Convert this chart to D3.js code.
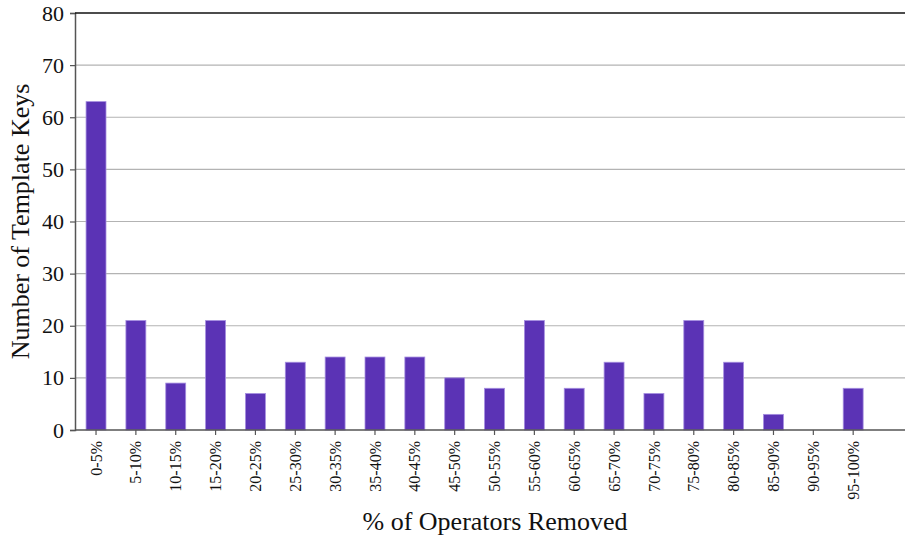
<!DOCTYPE html>
<html>
<head>
<meta charset="utf-8">
<script src="https://cdn.jsdelivr.net/npm/d3@7"></script>
<style>
  body { margin: 0; background: #fff; }
  svg text { font-family: "Liberation Serif", "DejaVu Serif", serif; fill: #111; }
</style>
</head>
<body>
<div id="main"></div>
<script>
const categories = ["0-5%", "5-10%", "10-15%", "15-20%", "20-25%", "25-30%", "30-35%",
  "35-40%", "40-45%", "45-50%", "50-55%", "55-60%", "60-65%", "65-70%", "70-75%",
  "75-80%", "80-85%", "85-90%", "90-95%", "95-100%"];
const counts = [63, 21, 9, 21, 7, 13, 14, 14, 14, 10, 8, 21, 8, 13, 7, 21, 13, 3, 0, 8];
const yTicks = [0, 10, 20, 30, 40, 50, 60, 70, 80];

const ctx = {
    WIDTH: 905,
    HEIGHT: 537,
    LEFT: 75,
    RIGHT: 905,
    TOP: 13,
    BOTTOM: 430,
    FONT: "'Liberation Serif', 'DejaVu Serif', serif"
};

function createViz() {
    const svg = d3.select("#main").append("svg")
        .attr("width", ctx.WIDTH)
        .attr("height", ctx.HEIGHT);

    ctx.xScale = d3.scaleBand().domain(categories)
        .range([76.1, 873.1])
        .paddingInner(0.5)
        .paddingOuter(0.25);

    ctx.yScale = d3.scaleLinear().domain([0, 80])
        .range([ctx.BOTTOM, ctx.TOP]);

    // gridlines
    svg.append("g")
        .selectAll("line")
        .data(yTicks.filter(d => d > 0 && d < 80))
        .join("line")
        .attr("x1", ctx.LEFT).attr("x2", ctx.RIGHT)
        .attr("y1", d => ctx.yScale(d)).attr("y2", d => ctx.yScale(d))
        .attr("stroke", "#b3b3b3")
        .attr("stroke-width", 1.2);

    // bars
    svg.append("g")
        .selectAll("rect")
        .data(counts)
        .join("rect")
        .attr("x", (d, i) => ctx.xScale(categories[i]))
        .attr("y", d => ctx.yScale(d))
        .attr("width", ctx.xScale.bandwidth())
        .attr("height", d => ctx.yScale(0) - ctx.yScale(d))
        .attr("fill", "#5b33b5")
        .attr("stroke", d => d > 0 ? "#a58ee0" : "none")
        .attr("stroke-width", 0.8);

    // y axis
    const yAxis = svg.append("g")
        .attr("transform", `translate(${ctx.LEFT},0)`)
        .call(d3.axisLeft(ctx.yScale).tickValues(yTicks).tickSize(5).tickPadding(6))
        .attr("font-family", null);
    yAxis.select(".domain").attr("stroke", "#555").attr("stroke-width", 1.5);
    yAxis.selectAll(".tick line").attr("stroke", "#555").attr("stroke-width", 1.2);
    yAxis.selectAll("text")
        .style("font-size", "22px")
        .style("font-family", ctx.FONT)
        .attr("fill", "#111");

    // x axis
    const xAxis = svg.append("g")
        .attr("transform", `translate(0,${ctx.BOTTOM})`)
        .call(d3.axisBottom(ctx.xScale).tickSizeOuter(0).tickSize(5))
        .attr("font-family", null);
    xAxis.select(".domain").attr("stroke", "#555").attr("stroke-width", 1.5)
        .attr("d", `M${ctx.LEFT},0H${ctx.RIGHT}`);
    xAxis.selectAll(".tick line").attr("stroke", "#555").attr("stroke-width", 1.2);
    xAxis.selectAll("text")
        .attr("transform", "rotate(-90)")
        .attr("x", -11)
        .attr("y", 0)
        .attr("dy", "0.35em")
        .style("text-anchor", "end")
        .style("font-size", "16px")
        .style("font-family", ctx.FONT)
        .attr("fill", "#111");

    // top spine
    svg.append("line")
        .attr("x1", ctx.LEFT).attr("x2", ctx.RIGHT)
        .attr("y1", ctx.TOP).attr("y2", ctx.TOP)
        .attr("stroke", "#111")
        .attr("stroke-width", 1.5);

    // axis labels
    svg.append("text")
        .attr("x", (ctx.LEFT + ctx.RIGHT) / 2 + 5)
        .attr("y", 530)
        .style("text-anchor", "middle")
        .style("font-size", "26px")
        .style("font-family", ctx.FONT)
        .text("% of Operators Removed");

    svg.append("text")
        .attr("transform", `translate(29,${(ctx.TOP + ctx.BOTTOM) / 2}) rotate(-90)`)
        .style("text-anchor", "middle")
        .style("font-size", "26px")
        .style("font-family", ctx.FONT)
        .text("Number of Template Keys");
}

createViz();
</script>
</body>
</html>
